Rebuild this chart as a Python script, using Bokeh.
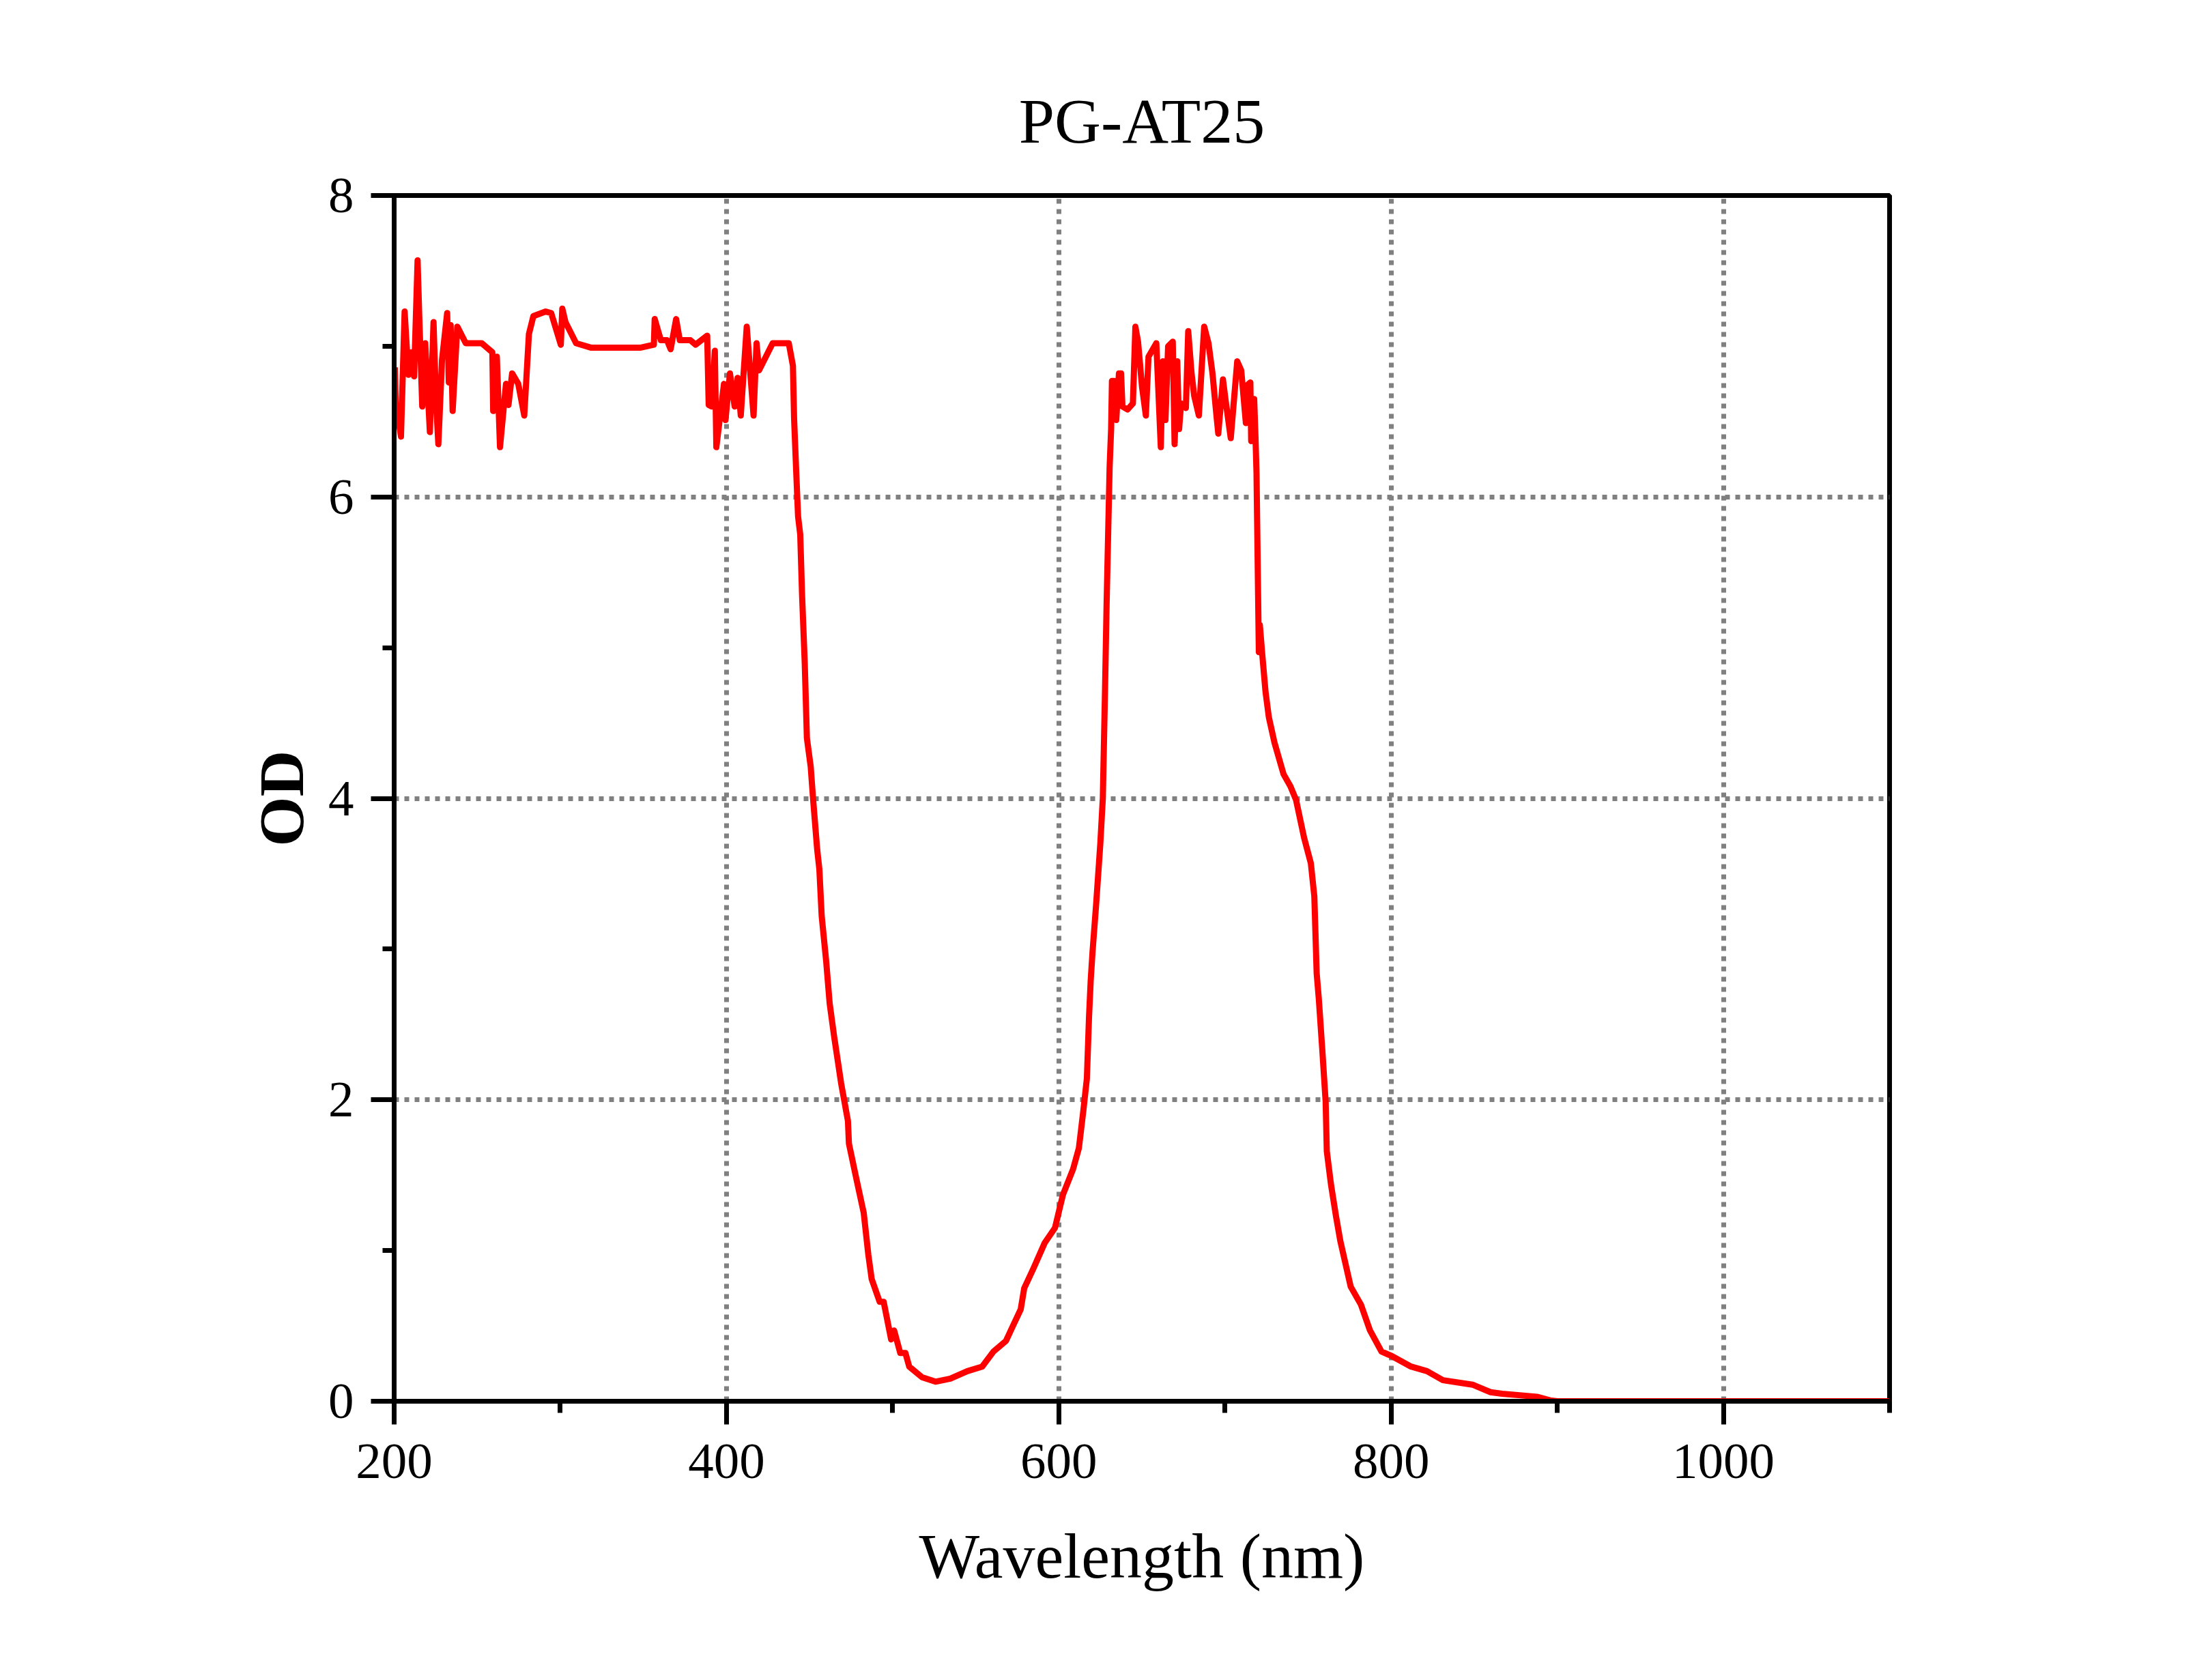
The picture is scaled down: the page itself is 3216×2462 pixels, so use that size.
from bokeh.plotting import figure
from bokeh.models import Range1d, FixedTicker
from bokeh.embed import file_html
from bokeh.resources import INLINE

title_text = "PG-AT25"
x_label = "Wavelength (nm)"
y_label = "OD"

x_major_ticks = [200, 400, 600, 800, 1000]
x_minor_ticks = [300, 500, 700, 900, 1100]
y_major_ticks = [0, 2, 4, 6, 8]
y_minor_ticks = [1, 3, 5, 7]

wavelength = [
    200.4, 201.3, 202.6, 204.1, 206.3, 208.6, 210.5, 212.0, 214.1, 215.1,
    216.9, 218.7, 221.5, 223.7, 225.1, 226.6, 228.8, 231.9, 232.9, 234.0,
    235.2, 238.0, 243.1, 252.7, 259.1, 259.6, 261.8, 263.7, 267.3, 268.8,
    271.0, 274.7, 278.3, 281.1, 283.8, 291.2, 294.5, 300.3, 301.2, 303.1,
    309.5, 318.7, 348.0, 356.3, 356.8, 360.5, 364.2, 366.4, 369.7, 371.9,
    378.3, 381.4, 388.4, 389.3, 391.1, 393.0, 393.9, 398.5, 399.4, 402.1,
    404.9, 406.7, 408.6, 412.2, 416.3, 418.1, 419.6, 427.8, 437.5, 440.0,
    440.7, 442.0, 443.1, 444.4, 445.5, 447.1, 448.4, 450.7, 452.1, 454.6,
    455.9, 457.3, 460.0, 462.1, 464.8, 469.0, 473.1, 473.7, 477.9, 482.6,
    485.4, 487.4, 492.2, 494.6, 499.1, 500.9, 504.6, 507.7, 510.0, 517.6,
    525.8, 534.7, 545.0, 553.9, 560.7, 568.2, 572.4, 577.1, 579.2, 584.7,
    591.5, 597.7, 602.5, 608.6, 612.1, 614.8, 616.9, 618.2, 619.2, 620.3,
    622.5, 625.0, 626.5, 627.8, 628.8, 629.8, 630.6, 631.5, 632.0, 633.1,
    634.6, 636.2, 637.5, 638.3, 641.4, 644.6, 646.1, 647.7, 650.1, 652.4,
    654.0, 658.7, 661.4, 662.6, 664.2, 665.8, 668.6, 669.7, 671.3, 672.4,
    673.6, 676.5, 677.9, 679.9, 681.5, 684.3, 687.5, 690.1, 692.5, 694.9,
    696.0, 698.8, 700.4, 703.5, 707.4, 709.8, 712.6, 713.2, 715.3, 715.8,
    717.6, 718.4, 719.0, 719.6, 720.4, 721.0, 722.5, 724.4, 726.4, 729.8,
    735.3, 739.4, 742.8, 747.6, 751.7, 753.8, 755.2, 756.5, 758.6, 760.6,
    761.3, 763.8, 766.8, 769.5, 775.7, 781.9, 787.3, 794.2, 800.4, 812.0,
    821.6, 831.2, 849.0, 859.9, 866.8, 887.7, 895.6, 900.0, 1100.0,
]

od = [
    6.86, 6.49, 6.51, 6.40, 7.23, 6.81, 6.96, 6.80, 7.57, 7.20,
    6.60, 7.02, 6.43, 7.16, 6.66, 6.35, 6.91, 7.22, 6.76, 7.14,
    6.57, 7.13, 7.02, 7.02, 6.96, 6.57, 6.93, 6.33, 6.75, 6.61,
    6.82, 6.75, 6.54, 7.08, 7.20, 7.23, 7.22, 7.01, 7.25, 7.16,
    7.02, 6.99, 6.99, 7.01, 7.18, 7.04, 7.04, 6.98, 7.18, 7.04,
    7.04, 7.01, 7.07, 6.61, 6.60, 6.97, 6.33, 6.75, 6.51, 6.82,
    6.60, 6.79, 6.54, 7.13, 6.54, 7.02, 6.84, 7.02, 7.02, 6.87,
    6.52, 6.16, 5.87, 5.75, 5.35, 4.90, 4.40, 4.21, 4.00, 3.66,
    3.53, 3.22, 2.92, 2.64, 2.42, 2.11, 1.86, 1.71, 1.49, 1.25,
    0.97, 0.81, 0.66, 0.66, 0.41, 0.47, 0.32, 0.32, 0.23, 0.16,
    0.13, 0.15, 0.20, 0.23, 0.33, 0.40, 0.50, 0.61, 0.75, 0.88,
    1.05, 1.15, 1.37, 1.54, 1.68, 1.93, 2.14, 2.55, 2.79, 2.98,
    3.30, 3.70, 4.00, 4.70, 5.30, 5.80, 6.20, 6.45, 6.77, 6.77,
    6.51, 6.82, 6.82, 6.60, 6.58, 6.62, 7.13, 7.03, 6.73, 6.54,
    6.93, 7.02, 6.33, 6.90, 6.51, 7.00, 7.03, 6.35, 6.90, 6.45,
    6.62, 6.59, 7.10, 6.82, 6.67, 6.54, 7.13, 7.02, 6.82, 6.54,
    6.42, 6.78, 6.64, 6.39, 6.90, 6.84, 6.49, 6.74, 6.76, 6.37,
    6.65, 6.39, 6.16, 5.65, 4.97, 5.15, 4.95, 4.71, 4.54, 4.37,
    4.16, 4.08, 3.99, 3.74, 3.57, 3.35, 2.84, 2.67, 2.33, 1.99,
    1.66, 1.44, 1.23, 1.06, 0.76, 0.64, 0.47, 0.33, 0.30, 0.23,
    0.20, 0.14, 0.11, 0.06, 0.05, 0.03, 0.006, 0.0, 0.0,
]

FONT = "Liberation Serif"

p = figure(
    width=3200, height=2440,
    output_backend="svg", toolbar_location=None,
    x_range=Range1d(200, 1100), y_range=Range1d(0, 8),
    min_border_left=577, min_border_right=432,
    min_border_top=286, min_border_bottom=387,
    title=title_text,
)
p.background_fill_color = "white"
p.border_fill_color = "white"
p.outline_line_color = "black"
p.outline_line_width = 7
p.outline_line_alpha = 1.0

p.title.align = "center"
p.title.text_font = FONT
p.title.text_font_size = "94px"
p.title.text_font_style = "normal"
p.title.text_color = "black"
p.title.standoff = 115

p.xaxis.ticker = FixedTicker(ticks=x_major_ticks, minor_ticks=x_minor_ticks)
p.yaxis.ticker = FixedTicker(ticks=y_major_ticks, minor_ticks=y_minor_ticks)
p.xgrid.ticker = FixedTicker(ticks=x_major_ticks[1:])
p.ygrid.ticker = FixedTicker(ticks=y_major_ticks[1:-1])

for g in (p.xgrid, p.ygrid):
    g.grid_line_color = "#808080"
    g.grid_line_width = 7
    g.grid_line_dash = "7 8"

for ax in (p.xaxis, p.yaxis):
    ax.axis_line_width = 7
    ax.axis_line_color = "black"
    ax.major_tick_line_width = 7
    ax.minor_tick_line_width = 7
    ax.major_tick_line_color = "black"
    ax.minor_tick_line_color = "black"
    ax.major_tick_in = 0
    ax.minor_tick_in = 0
    ax.major_tick_out = 34
    ax.minor_tick_out = 17
    ax.major_label_text_font = FONT
    ax.major_label_text_font_size = "75px"
    ax.major_label_text_color = "black"
    ax.axis_label_text_font = FONT
    ax.axis_label_text_font_size = "94px"
    ax.axis_label_text_color = "black"

p.xaxis.major_label_standoff = 29
p.yaxis.major_label_standoff = 25
p.xaxis.axis_label = x_label
p.xaxis.axis_label_text_font_style = "normal"
p.xaxis.axis_label_standoff = 59
p.yaxis.axis_label = y_label
p.yaxis.axis_label_text_font_style = "bold"
p.yaxis.axis_label_standoff = 14

p.line(wavelength, od, line_color="#FF0000", line_width=9, line_join="round")

open("out.html", "w").write(file_html(p, INLINE))
